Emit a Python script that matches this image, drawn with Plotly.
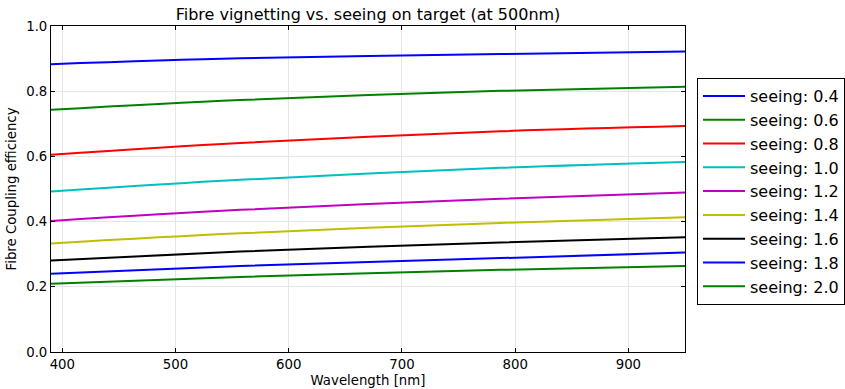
import plotly.graph_objects as go

wavelength = [390, 557, 787, 950]
seeing_labels = ["seeing: 0.4", "seeing: 0.6", "seeing: 0.8", "seeing: 1.0", "seeing: 1.2",
                 "seeing: 1.4", "seeing: 1.6", "seeing: 1.8", "seeing: 2.0"]
eff_04 = [0.883, 0.901, 0.914, 0.922]
eff_06 = [0.743, 0.773, 0.801, 0.814]
eff_08 = [0.605, 0.641, 0.677, 0.693]
eff_10 = [0.492, 0.528, 0.565, 0.583]
eff_12 = [0.402, 0.436, 0.470, 0.489]
eff_14 = [0.333, 0.364, 0.396, 0.413]
eff_16 = [0.281, 0.308, 0.336, 0.352]
eff_18 = [0.240, 0.264, 0.288, 0.305]
eff_20 = [0.209, 0.230, 0.252, 0.264]
series = [eff_04, eff_06, eff_08, eff_10, eff_12, eff_14, eff_16, eff_18, eff_20]
colors = ["#0000ff", "#008000", "#ff0000", "#00bfbf", "#bf00bf", "#bfbf00", "#000000", "#0000ff", "#008000"]

fig = go.Figure()
for name, ys, c in zip(seeing_labels, series, colors):
    fig.add_trace(go.Scatter(x=wavelength, y=ys, mode="lines", name=name,
                             line=dict(color=c, width=2, shape="spline", smoothing=1.0)))

FONT = "DejaVu Sans"
fig.update_layout(
    width=845, height=389,
    margin=dict(l=51, r=160, t=26, b=37),
    paper_bgcolor="white", plot_bgcolor="white",
    font=dict(family=FONT, size=13.3, color="black"),
    title=dict(text="Fibre vignetting vs. seeing on target (at 500nm)", x=368 / 845,
               xanchor="center", y=1 - 14 / 389, yanchor="middle", yref="container",
               font=dict(size=16, family=FONT)),
    showlegend=True,
    legend=dict(xref="container", yref="paper", x=697 / 845, xanchor="left",
                y=(352 - 78) / 326, yanchor="top",
                bordercolor="black", borderwidth=1, bgcolor="white",
                itemwidth=42,
                font=dict(size=16, family=FONT)),
)
fig.update_xaxes(range=[390, 950], tickvals=[400, 500, 600, 700, 800, 900],
                 ticks="inside", ticklen=4, tickcolor="black", mirror="ticks",
                 showline=True, linecolor="black", linewidth=1,
                 showgrid=True, gridcolor="#e6e6e6", gridwidth=1, zeroline=False,
                 automargin=False,
                 tickfont=dict(size=13.3),
                 title=dict(text="Wavelength [nm]", font=dict(size=13.3), standoff=4))
fig.update_yaxes(range=[0, 1], tickvals=[0, 0.2, 0.4, 0.6, 0.8, 1.0], tickformat=".1f",
                 ticks="inside", ticklen=4, tickcolor="black", mirror="ticks",
                 showline=True, linecolor="black", linewidth=1,
                 showgrid=True, gridcolor="#e6e6e6", gridwidth=1, zeroline=False,
                 automargin=False,
                 tickfont=dict(size=13.3),
                 title=dict(text="Fibre Coupling efficiency", font=dict(size=13.3), standoff=6))

fig.write_html("out.html")
